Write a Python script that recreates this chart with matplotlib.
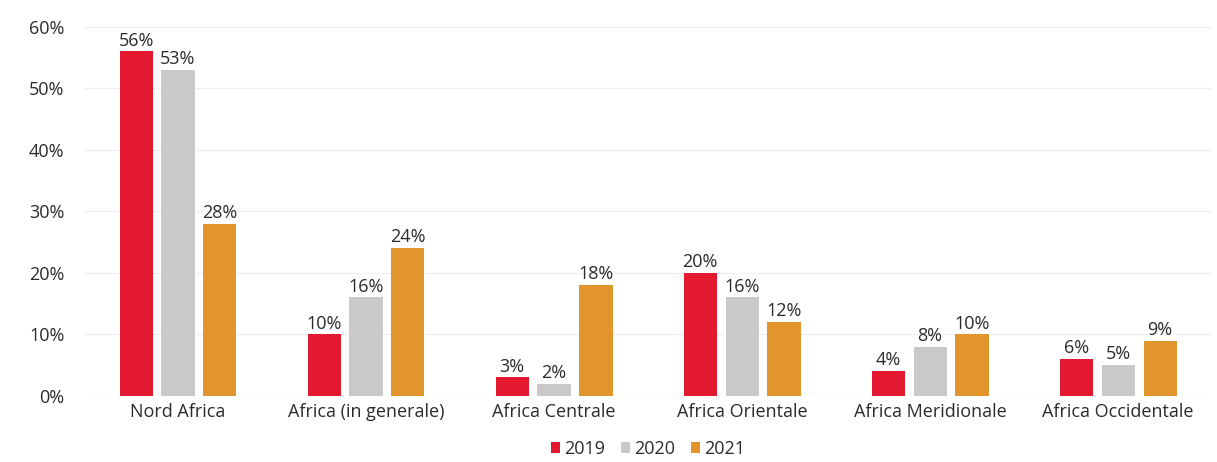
import matplotlib.pyplot as plt
import matplotlib.ticker as mtick
import numpy as np

regions = ["Nord Africa", "Africa (in generale)", "Africa Centrale",
           "Africa Orientale", "Africa Meridionale", "Africa Occidentale"]
years = ["2019", "2020", "2021"]
share_2019 = [56, 10, 3, 20, 4, 6]
share_2020 = [53, 16, 2, 16, 8, 5]
share_2021 = [28, 24, 18, 12, 10, 9]
colors = ["#E3192F", "#CBC9C7", "#E1952C"]

plt.rcParams['font.family'] = ['Open Sans', 'DejaVu Sans']
fig = plt.figure(figsize=(12.17, 4.62), dpi=100)
ax = fig.add_axes([0.069, 0.143, 0.927, 0.799])

x = np.arange(len(regions))
width = 0.176
step = 0.223
for i, (vals, year) in enumerate(zip([share_2019, share_2020, share_2021], years)):
    pos = x + (i - 1) * step
    ax.bar(pos, vals, width, color=colors[i], label=year, zorder=2)
    for px, v in zip(pos, vals):
        ax.text(px, v + 0.3, f"{v}%", ha="center", va="bottom",
                fontsize=13, color="#2B2B2B")

ax.set_xlim(-0.5, len(regions) - 0.5)
ax.set_ylim(0, 60)
ax.yaxis.set_major_locator(mtick.MultipleLocator(10))
ax.yaxis.set_major_formatter(mtick.PercentFormatter(100, decimals=0))
ax.set_xticks(x)
ax.set_xticklabels(regions)
ax.tick_params(axis="both", length=0, labelsize=13, labelcolor="#2B2B2B")
ax.tick_params(axis="y", pad=14)
ax.tick_params(axis="x", pad=5)
ax.grid(axis="y", color="#F0F0F0", linewidth=1, zorder=0)
for s in ax.spines.values():
    s.set_visible(False)

ax.legend(loc="upper center", bbox_to_anchor=(0.5, -0.085), ncol=3, frameon=False,
          fontsize=13, handlelength=0.5, handleheight=0.5, handletextpad=0.2,
          columnspacing=0.9, labelcolor="#2B2B2B", borderpad=0.2)

fig.savefig("out.png")
